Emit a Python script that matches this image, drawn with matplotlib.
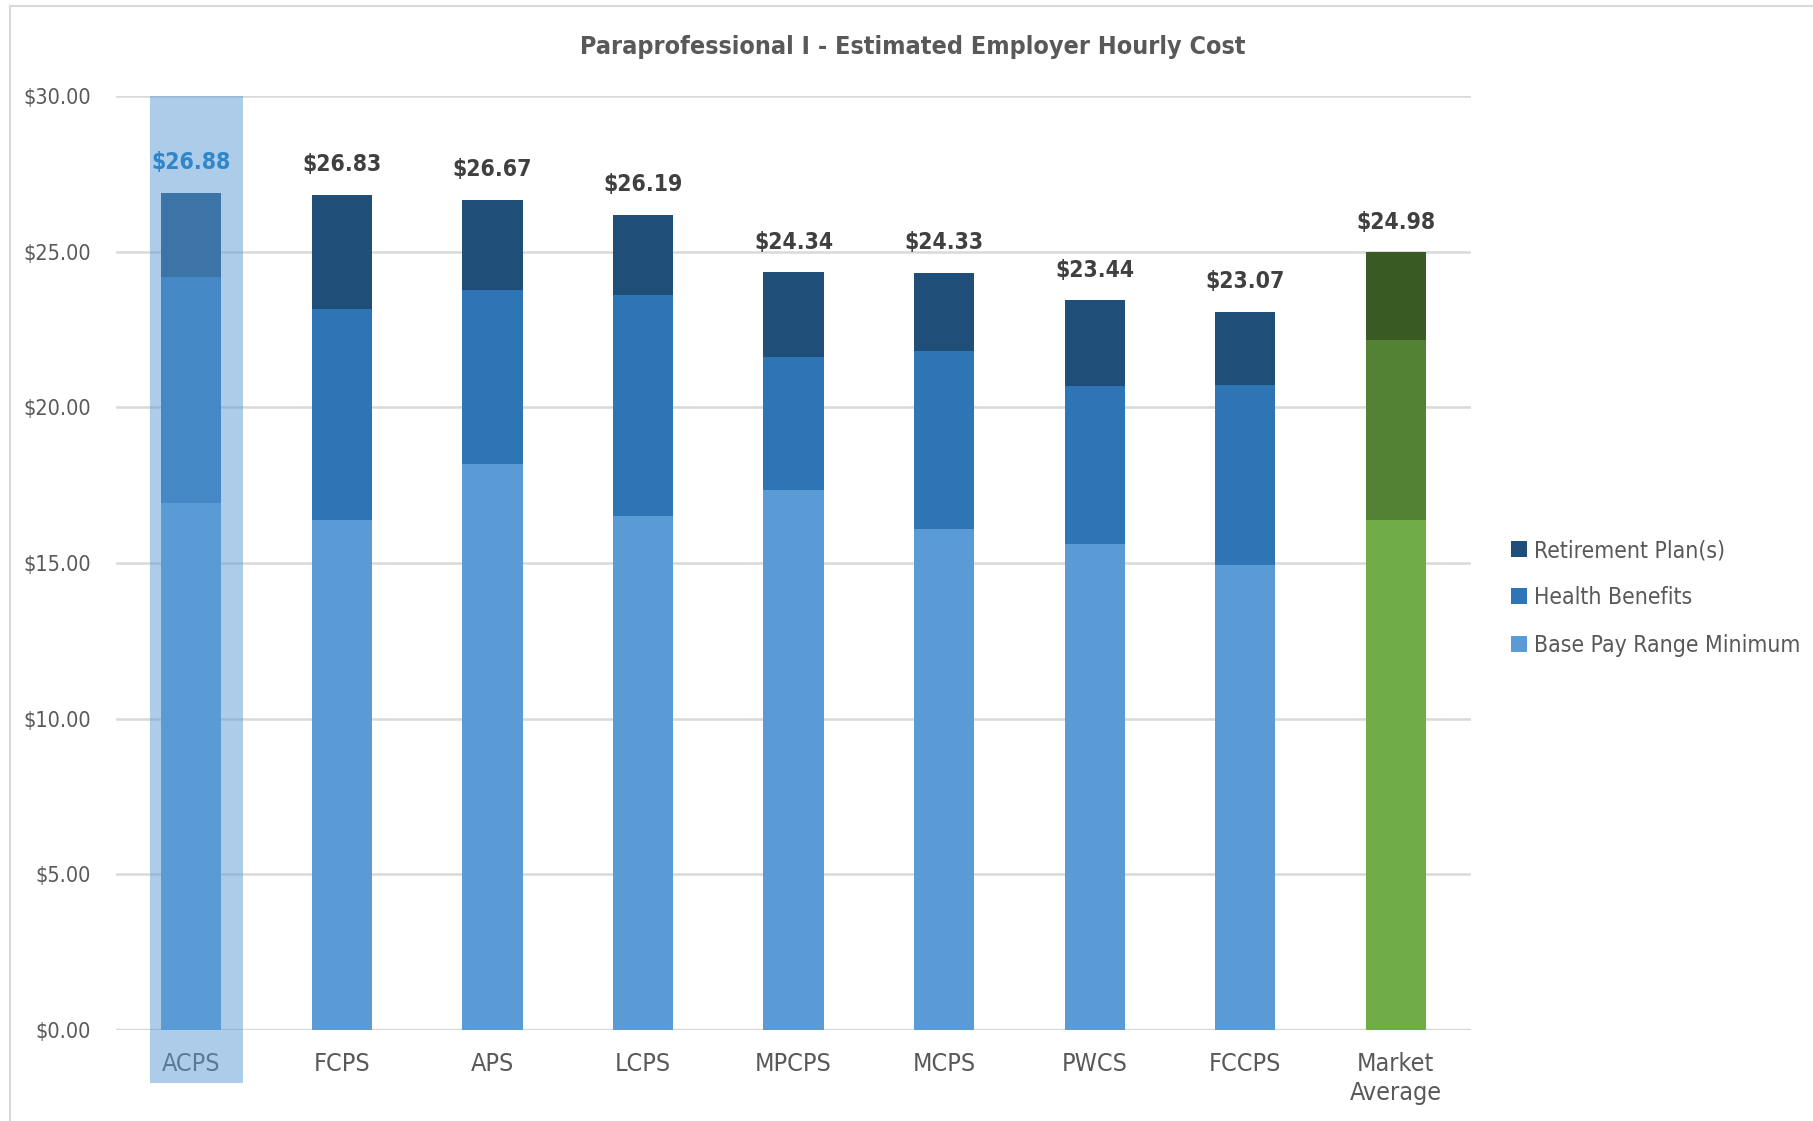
import matplotlib
matplotlib.use("Agg")
import matplotlib.pyplot as plt
from matplotlib.patches import Rectangle, Patch
from matplotlib.lines import Line2D
from matplotlib import font_manager as fm
import numpy as np

# look for a narrow / condensed sans face
narrow_reg = None
narrow_bold = None
for f in fm.fontManager.ttflist:
    key = (f.name + " " + f.fname).lower()
    if ("narrow" in key or "condensed" in key or f.stretch in ("condensed", "semi-condensed")) and "mono" not in key and "serif" not in key.replace("sans", ""):
        bold = (f.weight in ("bold", 700) or (isinstance(f.weight, int) and f.weight >= 600)) and "oblique" not in key and "italic" not in key
        reg = (f.weight in ("normal", "regular", 400)) and "oblique" not in key and "italic" not in key
        if bold and narrow_bold is None:
            narrow_bold = f.fname
        if reg and narrow_reg is None:
            narrow_reg = f.fname

plt.rcParams['font.family'] = ['Liberation Sans', 'DejaVu Sans']

def fp(size, bold=False):
    if bold and narrow_bold:
        return fm.FontProperties(fname=narrow_bold, size=size)
    if (not bold) and narrow_reg:
        return fm.FontProperties(fname=narrow_reg, size=size)
    return fm.FontProperties(family='Liberation Sans', size=size * 0.85,
                             weight='bold' if bold else 'normal')

categories = ["ACPS", "FCPS", "APS", "LCPS", "MPCPS", "MCPS", "PWCS", "FCCPS", "Market\nAverage"]
base_pay = [16.92, 16.39, 18.19, 16.52, 17.34, 16.08, 15.60, 14.93, 16.39]
health = [7.28, 6.76, 5.57, 7.10, 4.27, 5.72, 5.08, 5.79, 5.78]
retirement = [2.68, 3.68, 2.91, 2.57, 2.73, 2.53, 2.76, 2.35, 2.81]
totals = [26.88, 26.83, 26.67, 26.19, 24.34, 24.33, 23.44, 23.07, 24.98]
yticks = [0, 5, 10, 15, 20, 25, 30]
series_names = ["Base Pay Range Minimum", "Health Benefits", "Retirement Plan(s)"]

blue_cols = ["#5B9BD5", "#2E75B6", "#1F4E79"]
green_cols = ["#70AD47", "#548235", "#3A5A24"]
grid_col = "#D9D9D9"
text_col = "#595959"

W, H = 1813, 1121
fig = plt.figure(figsize=(W / 100, H / 100), dpi=100)
ax = fig.add_axes([116 / W, 1 - 1030 / H, (1471 - 116) / W, (1030 - 96) / H])

x = np.arange(len(categories))
bw = 0.4
for i in range(len(categories)):
    cols = green_cols if i == len(categories) - 1 else blue_cols
    ax.bar(x[i], base_pay[i], bw, color=cols[0], zorder=3)
    ax.bar(x[i], health[i], bw, bottom=base_pay[i], color=cols[1], zorder=3)
    ax.bar(x[i], retirement[i], bw, bottom=base_pay[i] + health[i], color=cols[2], zorder=3)

ax.set_xlim(-0.5, len(categories) - 0.5)
ax.set_ylim(0, 30)
ax.set_yticks(yticks)
ax.set_yticklabels([f"${v:.2f}" for v in yticks], fontproperties=fp(15.5), color=text_col)
ax.set_xticks(x)
ax.set_xticklabels(categories, fontproperties=fp(18), color=text_col, linespacing=1.25)
ax.tick_params(axis='both', length=0)
ax.tick_params(axis='x', pad=16)
ax.tick_params(axis='y', pad=18)
for s in ax.spines.values():
    s.set_visible(False)
ax.grid(axis='y', color=grid_col, linewidth=1.8, zorder=0)
ax.set_axisbelow(True)
ax.axhline(0, color=grid_col, linewidth=2.5, zorder=2)

# highlight overlay for ACPS
hl = Rectangle((-0.277, -1.7), 0.62, 31.7, facecolor="#5B9BD5", alpha=0.5,
               edgecolor='none', zorder=10, clip_on=False)
ax.add_patch(hl)

for i in range(len(categories)):
    top = base_pay[i] + health[i] + retirement[i]
    col = "#2F86CB" if i == 0 else "#404040"
    ax.text(x[i], top + 0.6, f"${totals[i]:.2f}", ha='center', va='bottom',
            fontproperties=fp(16.5, True), color=col, zorder=12)

fig.text(913 / W, 1 - 47 / H,
         "Paraprofessional I - Estimated Employer Hourly Cost",
         ha='center', va='center', fontproperties=fp(18, True), color=text_col)

handles = [Patch(facecolor=blue_cols[2]), Patch(facecolor=blue_cols[1]), Patch(facecolor=blue_cols[0])]
labels = [series_names[2], series_names[1], series_names[0]]
leg = fig.legend(handles, labels, loc='center left', bbox_to_anchor=(1490 / W, 1 - 598 / H),
                 frameon=False, prop=fp(16.5), labelcolor=text_col, handlelength=0.7,
                 handleheight=0.7, handletextpad=0.3, labelspacing=1.05)

# chart border
fig.add_artist(Line2D([10 / W, 10 / W], [0, 1 - 6 / H], color=grid_col, linewidth=1.5,
                      transform=fig.transFigure))
fig.add_artist(Line2D([10 / W, 1], [1 - 6 / H, 1 - 6 / H], color=grid_col, linewidth=1.5,
                      transform=fig.transFigure))

fig.savefig("out.png", dpi=100, facecolor="white")
